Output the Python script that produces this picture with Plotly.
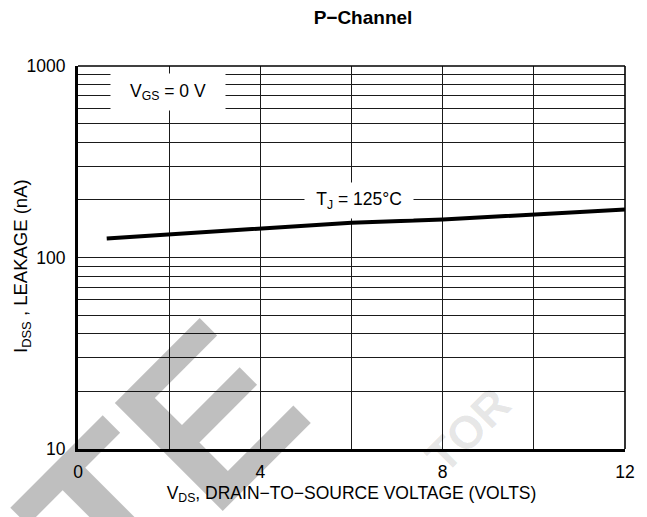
import plotly.graph_objects as go

# ---- data ----
vds = [0.63, 2, 4, 6, 8, 10, 12]
idss_na = [125.6, 132, 142.5, 152, 158, 167, 178]

x_tickvals = [0, 2, 4, 6, 8, 10, 12]
x_ticktext = ["0", "", "4", "", "8", "", "12"]
y_tickvals = [10, 20, 30, 40, 50, 60, 70, 80, 90,
              100, 200, 300, 400, 500, 600, 700, 800, 900, 1000]
y_ticktext = ["10", "", "", "", "", "", "", "", "",
              "100", "", "", "", "", "", "", "", "", "1000"]

title_text = "<b>P\u2212Channel</b>"
x_title = "V<sub>DS</sub>, DRAIN\u2212TO\u2212SOURCE VOLTAGE (VOLTS)"
y_title = "I<sub>DSS</sub> , LEAKAGE (nA)"
label_vgs = "V<sub>GS</sub> = 0 V"
label_tj = "T<sub>J</sub> = 125\u00b0C"

# page body adds an 8 px offset; figure is sized so the window is filled
OFF = 8
W, H = 647 - OFF, 517 - OFF
L, T = 78 - OFF, 66 - OFF
R = 647 - 625
B = 517 - 449
PW, PH = W - L - R, H - T - B

def px(xp):
    return (xp - OFF - L) / PW

def py(yp):
    return (H - B - (yp - OFF)) / PH

FONT = "Liberation Sans, Arial, Helvetica, sans-serif"
FS = 17.5

fig = go.Figure()
fig.add_trace(go.Scatter(x=vds, y=idss_na, mode="lines",
                         line=dict(color="black", width=4),
                         showlegend=False, hoverinfo="skip"))

grid = "#1a1a1a"
fig.update_xaxes(range=[0, 12], tickmode="array", tickvals=x_tickvals,
                 ticktext=x_ticktext, showgrid=True, gridcolor=grid,
                 gridwidth=1.3, zeroline=False, showline=True,
                 linecolor="black", linewidth=3, ticks="",
                 ticklabelstandoff=5,
                 tickfont=dict(size=FS, color="black", family=FONT),
                 title=dict(text=x_title, standoff=6,
                            font=dict(size=FS, color="black", family=FONT)))
fig.update_yaxes(type="log", range=[1, 3], tickmode="array",
                 tickvals=y_tickvals, ticktext=y_ticktext, showgrid=True,
                 gridcolor=grid, gridwidth=1.3, zeroline=False,
                 showline=True, linecolor="black", linewidth=3, ticks="",
                 ticklabelstandoff=6,
                 tickfont=dict(size=FS, color="black", family=FONT))

# y-axis title
fig.add_annotation(text=y_title, xref="paper", yref="paper",
                   x=px(22), y=py(266), xanchor="center", yanchor="middle",
                   textangle=-90, showarrow=False,
                   font=dict(size=18.5, color="black", family=FONT))

# top and right borders (thinner)
fig.add_shape(type="line", xref="paper", yref="paper", x0=0, x1=1, y0=1, y1=1,
              line=dict(color="black", width=1.6))
fig.add_shape(type="line", xref="paper", yref="paper", x0=1, x1=1, y0=0, y1=1,
              line=dict(color="black", width=1.6))

# watermark (semi-transparent so grid lines stay visible)
fig.add_annotation(text="<b>ETE</b>", xref="paper", yref="paper",
                   x=px(110), y=py(515), xanchor="center", yanchor="middle",
                   textangle=-45, showarrow=False,
                   font=dict(size=222, color="rgba(0,0,0,0.25)", family=FONT))
fig.add_annotation(text="<b>TOR</b>", xref="paper", yref="paper",
                   x=px(468), y=py(430), xanchor="center", yanchor="middle",
                   textangle=-45, showarrow=False,
                   font=dict(size=46, color="rgba(0,0,0,0.10)", family=FONT))

# labels with white boxes
fig.add_annotation(text=label_vgs, xref="paper", yref="paper",
                   x=px(168), y=py(92), xanchor="center", yanchor="middle",
                   width=114, height=36, bgcolor="white", borderpad=0,
                   showarrow=False,
                   font=dict(size=FS, color="black", family=FONT))
fig.add_annotation(text=label_tj, xref="paper", yref="paper",
                   x=px(359), y=py(200), xanchor="center", yanchor="middle",
                   width=108, height=35, bgcolor="white", borderpad=0,
                   showarrow=False,
                   font=dict(size=FS, color="black", family=FONT))

fig.update_layout(
    width=W, height=H,
    margin=dict(l=L, r=R, t=T, b=B, autoexpand=False),
    paper_bgcolor="white", plot_bgcolor="white",
    title=dict(text=title_text, x=(363 - OFF) / W, xanchor="center",
               y=1 - (17 - OFF) / H, yanchor="middle",
               font=dict(size=19, color="black", family=FONT)),
    showlegend=False,
)

fig.write_html("out.html")
